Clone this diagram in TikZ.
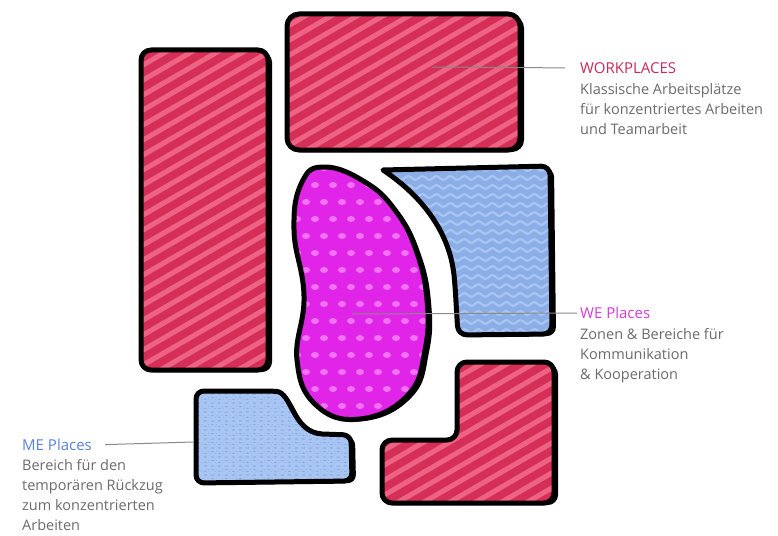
\documentclass[tikz,border=0pt]{standalone}
\usepackage{fontspec}
\setmainfont{Open Sans}
\usetikzlibrary{positioning,decorations.pathmorphing}
\definecolor{zonered}{HTML}{D52E57}
\definecolor{zonestripe}{HTML}{EE6284}
\definecolor{zoneblue}{HTML}{8CAEE6}
\definecolor{zonewave}{HTML}{A9C5F2}
\definecolor{zonepink}{HTML}{E025E8}
\definecolor{zonedot}{HTML}{F272F4}
\definecolor{labelred}{HTML}{C72A5C}
\definecolor{labelpink}{HTML}{D43CD8}
\definecolor{labelblue}{HTML}{5B82DA}
\definecolor{labelgrey}{HTML}{6B6B6B}

% outlines of the zones, in pixel units
\def\pathWork{[rounded corners=12pt] (287,14) rectangle (520,150)}
\def\pathTall{[rounded corners=10pt] (141,50) rectangle (268,370)}
\def\pathBean{plot[smooth cycle,tension=0.75] coordinates {(325,167) (365,182)
  (395,210) (416,250) (427,300) (425,350) (408,395) (360,419)
  (316,405) (297,360) (304,296) (294,230) (302,182)}}
\def\pathWeBlue{(383,170) [rounded corners=9pt] -- (550,166) -- (552,334)
  -- (458,335) -- (455,285) [sharp corners] .. controls (450,235) and (425,198)
  .. (383,170) -- cycle}
\def\pathMeBlue{(196,391) [rounded corners=8pt] -- (268,391) [sharp corners]
  .. controls (292,392) and (292,432) .. (322,434) [rounded corners=8pt]
  -- (351,435) -- (352,481) -- (196,483) -- cycle}
\def\pathStep{[rounded corners=10pt] (457,362) -- (554,362) -- (554,503)
  -- (382,503) -- (382,440) -- (457,440) -- cycle}

\tikzset{
  outline/.style={draw=black,line width=5pt,line join=round},
  shadowcopy/.style={fill=black,shift={(4,2)}},
  redzone/.style={outline,fill=zonered,path picture={
    \foreach \k in {0,15,...,900}{
      \draw[zonestripe,line width=5pt] (100,\k) -- ++(500,-290);}}},
  bluezone/.style={outline,fill=zoneblue,path picture={
    \foreach \k in {160,169,...,500}{
      \draw[zonewave,line width=2.2pt,decorate,
        decoration={snake,segment length=14pt,amplitude=1.8pt}] (180,\k) -- (570,\k);}}},
  pinkzone/.style={outline,fill=zonepink,path picture={
    \foreach \r in {0,...,15}{
      \foreach \c in {0,...,8}{
        \fill[zonedot] ({288+18*\c+9*mod(\r,2)},{168+17*\r})
          ellipse (4pt and 3pt);}}}},
  leader/.style={draw=labelgrey!80,line width=1pt},
  title/.style={inner sep=0pt,font=\fontsize{15}{16}\selectfont},
  body/.style={inner sep=0pt,align=left,text=labelgrey,
    font=\fontsize{14.5}{20}\selectfont}
}

\begin{document}
\begin{tikzpicture}[x=1pt,y=-1pt]
  \useasboundingbox (0,0) rectangle (778,535);
  \fill[white] (0,0) rectangle (778,535);

  % zones
  \fill[shadowcopy] \pathWork;
  \path[redzone] \pathWork;
  \fill[shadowcopy] \pathTall;
  \path[redzone] \pathTall;
  \fill[shadowcopy] \pathStep;
  \path[redzone] \pathStep;
  \fill[shadowcopy] \pathWeBlue;
  \path[bluezone] \pathWeBlue;
  \fill[shadowcopy] \pathMeBlue;
  \path[bluezone] \pathMeBlue;
  \fill[shadowcopy] \pathBean;
  \path[pinkzone] \pathBean;

  % labels
  \node[title,text=labelred,anchor=west] (wp-title) at (580,68) {WORKPLACES};
  \node[body,below=10pt of wp-title.south west,anchor=north west] (wp-text)
    {Klassische Arbeitsplätze\\für konzentriertes Arbeiten\\und Teamarbeit};
  \node[title,text=labelpink,anchor=west] (we-title) at (580,313) {WE Places};
  \node[body,below=9pt of we-title.south west,anchor=north west] (we-text)
    {Zonen \& Bereiche für\\Kommunikation\\\& Kooperation};
  \node[title,text=labelblue,anchor=west] (me-title) at (22,445) {ME Places};
  \node[body,below=8pt of me-title.south west,anchor=north west] (me-text)
    {Bereich für den\\temporären Rückzug\\zum konzentrierten\\Arbeiten};

  % leader lines
  \coordinate (wp-pin) at (432,67);
  \coordinate (we-pin) at (352,314);
  \coordinate (me-pin) at (193,442);
  \draw[leader,shorten >=15pt] (wp-pin) -- (wp-title.west);
  \draw[leader,shorten >=3pt] (we-pin) -- (we-title.west);
  \draw[leader,shorten <=13pt] (me-title.east) -- (me-pin);
\end{tikzpicture}
\end{document}
